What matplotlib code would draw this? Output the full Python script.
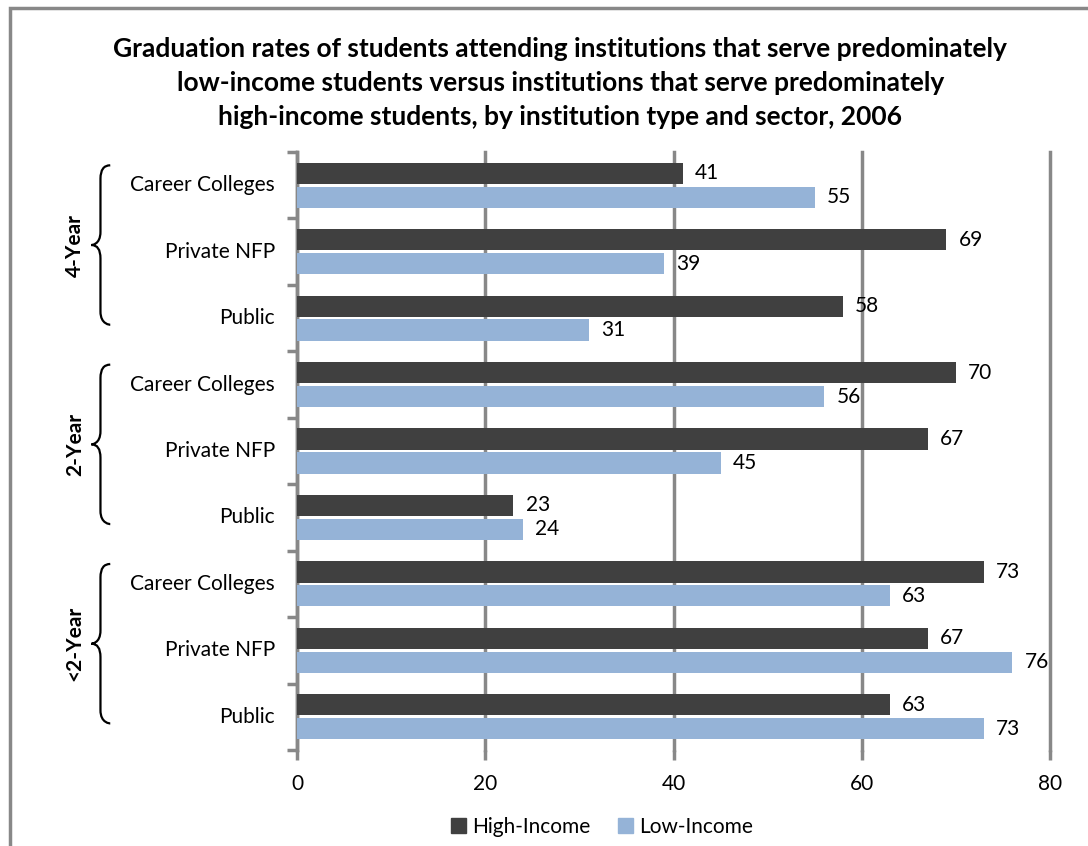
import numpy as np
import matplotlib.pyplot as plt
from matplotlib.path import Path
from matplotlib.patches import PathPatch, Rectangle
import matplotlib.transforms as mtransforms

plt.rcParams["font.family"] = ["Lato", "DejaVu Sans"]

# data, top to bottom
groups = ["4-Year", "2-Year", "<2-Year"]
sectors = ["Career Colleges", "Private NFP", "Public"]
high_income = [41, 69, 58, 70, 67, 23, 73, 67, 63]
low_income = [55, 39, 31, 56, 45, 24, 63, 76, 73]

DARK = "#404040"
BLUE = "#95b3d7"
GRID = "#888888"
FS = 15

fig = plt.figure(figsize=(10.88, 8.46), dpi=100)
ax = fig.add_axes([297 / 1088, 1 - 750 / 846, 753 / 1088, 598 / 846])

n = len(high_income)
y = np.arange(n)
h = 0.32
ax.barh(y - h / 2 - 0.02, high_income, height=h, color=DARK, zorder=3)
ax.barh(y + h / 2 + 0.02, low_income, height=h, color=BLUE, zorder=3)

for yi, v in zip(y, high_income):
    ax.text(v + 1.3, yi - h / 2 - 0.02, f"{v}", va="center", ha="left", fontsize=FS)
for yi, v in zip(y, low_income):
    ax.text(v + 1.3, yi + h / 2 + 0.02, f"{v}", va="center", ha="left", fontsize=FS)

ax.set_xlim(0, 80)
ax.set_ylim(n - 0.5, -0.5)
ax.set_xticks([0, 20, 40, 60, 80])
ax.tick_params(axis="x", labelsize=FS, length=7, width=2.5, color=GRID, pad=10)
ax.xaxis.grid(True, color=GRID, linewidth=2.5, zorder=0)
for gl in ax.get_xgridlines():
    gl.set_clip_on(False)
ax.set_axisbelow(True)

ax.set_yticks(np.arange(-0.5, n, 1.0))
ax.set_yticklabels([])
ax.tick_params(axis="y", length=7, width=2.5, color=GRID)
for s in ["top", "right", "bottom"]:
    ax.spines[s].set_visible(False)
ax.spines["left"].set_color(GRID)
ax.spines["left"].set_linewidth(2.5)

# sector labels beside each pair of bars
for i in range(n):
    ax.text(-0.029, i, sectors[i % 3], transform=ax.get_yaxis_transform(),
            ha="right", va="center", fontsize=FS)

# curly braces and group names
trans = mtransforms.blended_transform_factory(ax.transAxes, ax.transData)
x_end, x_stem, x_tip = -0.248, -0.261, -0.273
for g, name in enumerate(groups):
    top = 3 * g - 0.5 + 0.2
    bot = 3 * g + 2.5 - 0.4
    mid = (top + bot) / 2
    c = 0.2
    verts = [
        (x_end, top), (x_stem, top), (x_stem, top + c),
        (x_stem, mid - c),
        (x_stem, mid), (x_tip, mid), (x_tip, mid),
        (x_stem, mid), (x_stem, mid + c),
        (x_stem, bot - c),
        (x_stem, bot), (x_end, bot), (x_end, bot),
    ]
    codes = [Path.MOVETO, Path.CURVE3, Path.CURVE3,
             Path.LINETO,
             Path.CURVE4, Path.CURVE4, Path.CURVE4,
             Path.CURVE3, Path.CURVE3,
             Path.LINETO,
             Path.CURVE4, Path.CURVE4, Path.CURVE4]
    ax.add_patch(PathPatch(Path(verts, codes), transform=trans, fill=False,
                           edgecolor="black", linewidth=1.6, clip_on=False))
    ax.text(-0.295, mid, name, transform=trans, rotation=90, ha="center",
            va="center", fontsize=FS, fontweight="bold")

fig.text(0.515, 1 - 37 / 846,
         "Graduation rates of students attending institutions that serve predominately\n"
         "low-income students versus institutions that serve predominately\n"
         "high-income students, by institution type and sector, 2006",
         ha="center", va="top", fontsize=19, fontweight="bold", linespacing=1.5)

handles = [Rectangle((0, 0), 1, 1, color=DARK), Rectangle((0, 0), 1, 1, color=BLUE)]
fig.legend(handles, ["High-Income", "Low-Income"], loc="center",
           bbox_to_anchor=(602 / 1088, 1 - 827 / 846), ncol=2, frameon=False,
           fontsize=FS, handlelength=0.75, handleheight=0.75, handletextpad=0.3,
           columnspacing=1.3)

# outer chart frame
fig.add_artist(Rectangle((10 / 1088, -0.1), 1.2, 1 - 8 / 846 + 0.1,
                         transform=fig.transFigure, fill=False,
                         edgecolor=GRID, linewidth=2.5))

fig.savefig("out.png", dpi=100)
